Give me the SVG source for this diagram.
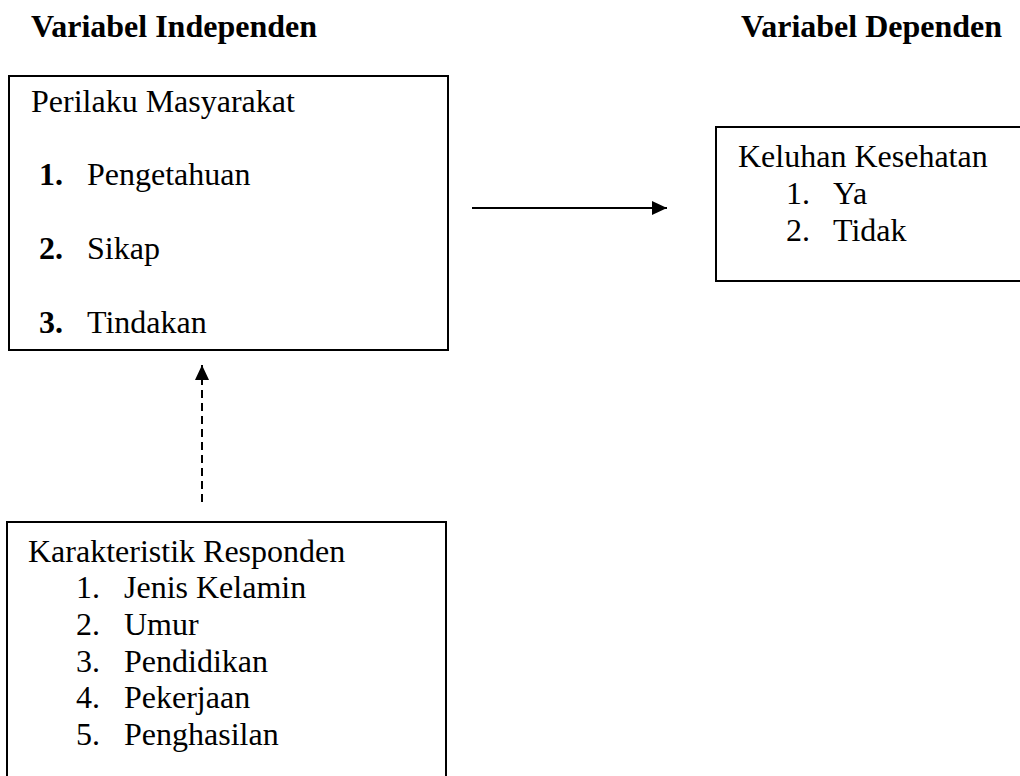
<svg xmlns="http://www.w3.org/2000/svg" width="1020" height="776" viewBox="0 0 1020 776">
<style>
text{font-family:"Liberation Serif","Times New Roman",serif;font-size:32px;fill:#000}
.b{font-weight:bold}
.box{fill:none;stroke:#000;stroke-width:2}
.ln{fill:none;stroke:#000;stroke-width:2}
.dash{stroke-dasharray:8 5}
</style>
<defs>
<marker id="ah" markerWidth="15" markerHeight="14" refX="15" refY="7" orient="auto" markerUnits="userSpaceOnUse">
<path d="M0,0 L15,7 L0,14 Z" fill="#000"/>
</marker>
</defs>
<rect width="1020" height="776" fill="#fff"/>
<text class="b" x="31" y="37">Variabel Independen</text>
<text class="b" x="741" y="37">Variabel Dependen</text>
<g id="perilaku">
<rect class="box" x="9" y="76" width="439" height="274"/>
<text x="31" y="112">Perilaku Masyarakat</text>
<text class="b" x="39" y="185">1.</text><text x="87" y="185">Pengetahuan</text>
<text class="b" x="39" y="259">2.</text><text x="87" y="259">Sikap</text>
<text class="b" x="39" y="333">3.</text><text x="87" y="333">Tindakan</text>
</g>
<g id="keluhan">
<rect class="box" x="716" y="127" width="320" height="154"/>
<text x="738" y="167">Keluhan Kesehatan</text>
<text x="786" y="204">1.</text><text x="833" y="204">Ya</text>
<text x="786" y="241">2.</text><text x="833" y="241">Tidak</text>
</g>
<g id="karakteristik">
<path class="box" d="M7,790 V522 H446 V790"/>
<text x="28" y="562">Karakteristik Responden</text>
<text x="76" y="598">1.</text><text x="124" y="598">Jenis Kelamin</text>
<text x="76" y="635">2.</text><text x="124" y="635">Umur</text>
<text x="76" y="672">3.</text><text x="124" y="672">Pendidikan</text>
<text x="76" y="708">4.</text><text x="124" y="708">Pekerjaan</text>
<text x="76" y="745">5.</text><text x="124" y="745">Penghasilan</text>
</g>
<g id="connectors">
<line class="ln" x1="472" y1="208" x2="667" y2="208" marker-end="url(#ah)"/>
<line class="ln dash" x1="202" y1="502" x2="202" y2="365" marker-end="url(#ah)"/>
</g>
</svg>
